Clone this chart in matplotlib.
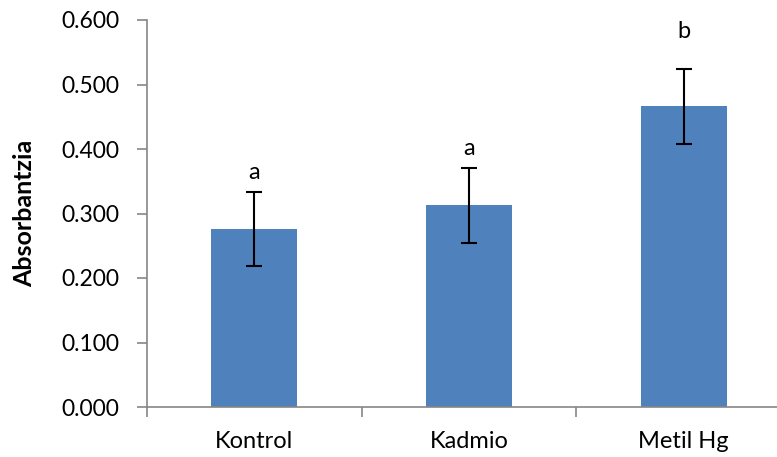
import numpy as np
import matplotlib.pyplot as plt
from matplotlib.ticker import FixedLocator

plt.rcParams['font.family'] = ['Lato', 'DejaVu Sans']

groups = ["Kontrol", "Kadmio", "Metil Hg"]
absorb = [0.276, 0.313, 0.466]
err = [0.058, 0.058, 0.058]
letters = ["a", "a", "b"]

fig = plt.figure(figsize=(7.77, 4.57), dpi=100)
ax = fig.add_axes([147 / 777, 50 / 457, 644 / 777, 387 / 457])

x = np.arange(len(groups))
ax.bar(x, absorb, width=0.40, color="#4F81BD", zorder=2)
ax.errorbar(x, absorb, yerr=err, fmt="none", ecolor="black",
            elinewidth=1.5, capsize=6, capthick=1.5, zorder=3)

# letters above the error bars
offsets = [14, 14, 27]
for xi, m, e, lab, off in zip(x, absorb, err, letters, offsets):
    ax.annotate(lab, (xi, m + e), xytext=(0, off), textcoords="offset points",
                ha="center", va="center", fontsize=17)

ax.set_xlim(-0.5, 2.5)
ax.set_ylim(0, 0.6)
ax.set_yticks(np.arange(0, 0.61, 0.1))
ax.set_yticklabels([f"{v:.3f}" for v in np.arange(0, 0.61, 0.1)], fontsize=16.5)
ax.set_xticks(x)
ax.set_xticklabels(groups, fontsize=17)
ax.xaxis.set_minor_locator(FixedLocator([-0.5, 0.5, 1.5, 2.5]))
ax.tick_params(axis="x", which="major", length=0, pad=17)
ax.tick_params(axis="x", which="minor", length=7, width=1.2, color="#868686")
ax.tick_params(axis="y", length=7, width=1.2, color="#868686", pad=13)

for s in ["top", "right"]:
    ax.spines[s].set_visible(False)
for s in ["left", "bottom"]:
    ax.spines[s].set_color("#868686")
    ax.spines[s].set_linewidth(1.2)

ax.set_ylabel("Absorbantzia", fontsize=18, fontweight="bold", labelpad=18)

fig.savefig("out.png", dpi=100)
